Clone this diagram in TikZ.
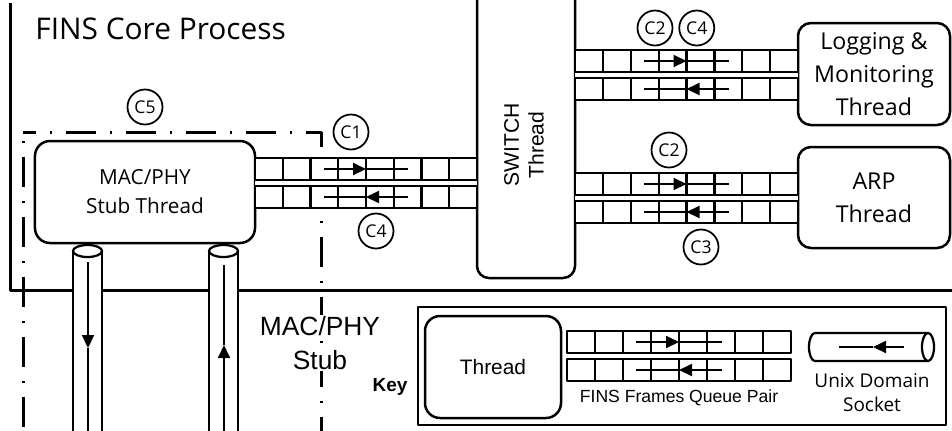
\documentclass[tikz,border=0pt]{standalone}
\usepackage{fontspec}
\setmainfont{Open Sans}
\newfontfamily\arialf{Liberation Sans}
\usepackage{tikz}
\usetikzlibrary{arrows.meta,positioning}
\tikzset{
    every picture/.style={line join=round},
    thread/.style={draw,fill=white,rounded corners=3mm,line width=0.5mm,
      inner sep=0pt,align=center},
    tag/.style={draw,circle,fill=white,minimum size=7mm,inner sep=0pt,
      line width=0.35mm,font=\fontsize{10}{12}\selectfont},
    qline/.style={draw,fill=white,line width=0.45mm},
    qarrow/.style={-{Triangle[length=2.6mm,width=2.4mm]},line width=0.4mm},
    stubline/.style={line width=0.6mm,line cap=butt,
      dash pattern=on 6mm off 2.8mm on 0.4mm off 2.8mm},
    sockwall/.style={line width=0.45mm},
    coreline/.style={line width=0.6mm,line cap=butt}
}

\begin{document}
\begin{tikzpicture}[x=0.2mm,y=-0.2mm]
  \useasboundingbox (0,0) rectangle (952,430);
  \clip (0,0) rectangle (952,430);
  % core process frame and stub region
  \draw[coreline] (10,3) -- (10,290) -- (960,290);
  \draw[stubline,dash phase=2.4mm] (321,435) -- (321,132) -- (23,132);
  \draw[stubline,dash phase=7mm] (23,132) -- (23,435);
  \node[anchor=base west,inner sep=0pt,font=\fontsize{17}{20}\selectfont] (title) at (35,39) {FINS Core Process};

  % threads
  \node[thread,minimum width=44mm,minimum height=20.4mm,font=\fontsize{11.8}{16.5}\selectfont] (stub) at (145,192) {MAC/PHY\\Stub Thread};
  \node[thread,rounded corners=2.4mm,minimum width=19.6mm,minimum height=60mm] (switch) at (526,128) {};
  \node[rotate=90,align=center,font=\arialf\fontsize{12}{14.2}\selectfont] (switchlbl) at (524,145) {SWITCH\\Thread};
  \node[thread,rounded corners=2.6mm,minimum width=30.4mm,minimum height=20.4mm,font=\fontsize{13.2}{18.8}\selectfont] (logmon) at (874,74) {Logging \&\\Monitoring\\Thread};
  \node[thread,rounded corners=2.6mm,minimum width=30.4mm,minimum height=20.2mm,font=\fontsize{13.2}{18.8}\selectfont] (arp) at (874,197.5) {ARP\\Thread};

  % queue pairs
  \foreach \qx/\qy/\qw in {255/158/222,575/50/223,575/173/223,567/331/224}{
    \fill[white] (\qx,\qy) rectangle ++(\qw,50);
    \draw[qline] (\qx,\qy) rectangle ++(\qw,22);
    \draw[qline] (\qx,{\qy+28}) rectangle ++(\qw,22);
    \foreach \i in {1,...,7}
      \draw[line width=0.45mm] ({\qx+\i*\qw/8},\qy) -- ++(0,22) ({\qx+\i*\qw/8},{\qy+28}) -- ++(0,22);
    \draw[qarrow] ({\qx+0.31*\qw},{\qy+11}) -- ({\qx+0.5*\qw},{\qy+11});
    \draw[line width=0.4mm] ({\qx+0.5*\qw},{\qy+11}) -- ({\qx+0.69*\qw},{\qy+11});
    \draw[qarrow] ({\qx+0.69*\qw},{\qy+39}) -- ({\qx+0.5*\qw},{\qy+39});
    \draw[line width=0.4mm] ({\qx+0.5*\qw},{\qy+39}) -- ({\qx+0.31*\qw},{\qy+39});
  }

  % sockets below the stub thread
  \fill[white] (73,251) rectangle (102,440) (209,251) rectangle (238,440);
  \draw[sockwall] (73,251) -- (73,440) (102,251) -- (102,440) (209,251) -- (209,440) (238,251) -- (238,440);
  \draw[sockwall,fill=white] (87.5,251) ellipse[x radius=2.9mm,y radius=1.2mm];
  \draw[sockwall,fill=white] (223.5,251) ellipse[x radius=2.9mm,y radius=1.2mm];
  \coordinate (downin) at (88,262);
  \coordinate (downmid) at (88,348);
  \coordinate (downout) at (88,440);
  \coordinate (upin) at (224,440);
  \coordinate (upmid) at (224,345);
  \coordinate (upout) at (224,265);
  \draw[qarrow] (downin) -- (downmid);
  \draw[line width=0.4mm] (downmid) -- (downout);
  \draw[qarrow] (upin) -- (upmid);
  \draw[line width=0.4mm] (upmid) -- (upout);

  % constraint tags
  \node[tag] (c5) at (145,107) {C5};
  \node[tag] (c1) at (351,132) {C1};
  \node[tag] (c4a) at (376,231) {C4};
  \node[tag] (c2a) at (655,28) {C2};
  \node[tag,right=1mm of c2a] (c4b) {C4};
  \node[tag] (c2b) at (669,150) {C2};
  \node[tag] (c3) at (701,247) {C3};

  \node[fill=white,inner sep=0.5pt,font=\arialf\fontsize{15}{18}\selectfont] (stublbl) at (320,326) {MAC/PHY};
  \node[fill=white,inner sep=0.5pt,font=\arialf\fontsize{15}{18}\selectfont] (stublbl2) at (320,360) {Stub};

  % key
  \node[draw,line width=0.45mm,inner sep=0pt,minimum width=105.6mm,minimum height=23.6mm] (keybox) at (682,366) {};
  \node[font=\arialf\bfseries\fontsize{10.8}{13}\selectfont] (keylbl) at (390,387) {Key};
  \node[thread,minimum width=27.2mm,minimum height=20.4mm,font=\arialf\fontsize{11.9}{14}\selectfont] (keythread) at (493,367) {Thread};
  \node[font=\arialf\fontsize{10}{12}\selectfont] (keyqlbl) at (679,398) {FINS Frames Queue Pair};
  \draw[sockwall,fill=white] (928,333) -- (815,333) arc[start angle=90,end angle=270,x radius=1.2mm,y radius=2.8mm] -- (928,361);
  \draw[sockwall,fill=white] (928,347) ellipse[x radius=1.2mm,y radius=2.8mm];
  \coordinate (keysockin) at (904,347);
  \coordinate (keysockmid) at (873,347);
  \coordinate (keysockout) at (839,347);
  \draw[qarrow] (keysockin) -- (keysockmid);
  \draw[line width=0.4mm] (keysockmid) -- (keysockout);
  \node[align=center,font=\fontsize{10.8}{13.7}\selectfont] (keysocklbl) at (872,393) {Unix Domain\\Socket};
\end{tikzpicture}
\end{document}
